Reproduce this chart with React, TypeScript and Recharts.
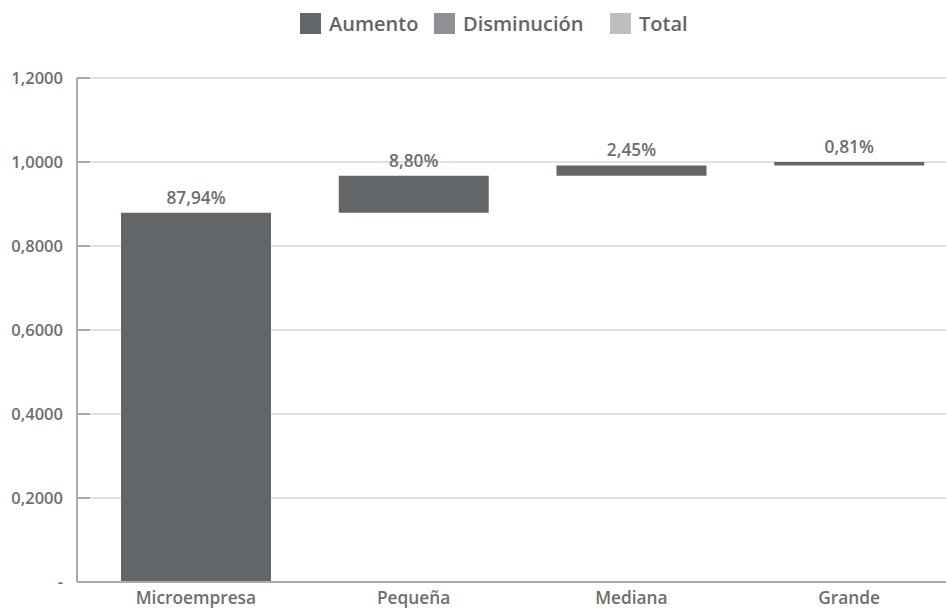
import React from 'react';
import { BarChart, Bar, XAxis, YAxis, CartesianGrid, Legend, LabelList } from 'recharts';

const categories = ['Microempresa', 'Pequeña', 'Mediana', 'Grande'];
const aumento = [0.8794, 0.088, 0.0245, 0.0081];
const disminucion = [0, 0, 0, 0];
const total = [0, 0, 0, 0];
const yTicks = [0, 0.2, 0.4, 0.6, 0.8, 1.0, 1.2];

const FONT = '"Open Sans", "Noto Sans", sans-serif';
const TEXT = '#6d6e71';
const AXIS = '#a7a9ac';
const C_AUM = '#636668';
const C_DIS = '#8f9194';
const C_TOT = '#bcbec0';
const LEGEND_ITEM_WIDTHS = [134, 176, 80];

let running = 0;
const data = categories.map((name, i) => {
  const base = running;
  running += aumento[i];
  return { name, base, aumento: aumento[i], disminucion: disminucion[i], total: total[i] };
});

const fmtAxis = (v: number) => (v === 0 ? '-' : v.toFixed(4).replace('.', ','));
const fmtPct = (v: number) => (v * 100).toFixed(2).replace('.', ',') + '%';

const TICK_SIZE = 6;
const TICK_MARGIN = 8;

const YTick = (props: any) => {
  const { x, y, payload } = props;
  const axisX = x + TICK_SIZE + TICK_MARGIN;
  return (
    <g>
      {payload.value !== 0 && (
        <line x1={axisX} x2={axisX + 13} y1={y} y2={y} stroke={AXIS} strokeWidth={2} />
      )}
      <text x={x} y={y} dy="0.355em" textAnchor="end" fill={TEXT} fontSize={16.5} fontWeight={600} fontFamily={FONT}>
        {fmtAxis(payload.value)}
      </text>
    </g>
  );
};

const XTick = (props: any) => {
  const { x, y, payload } = props;
  return (
    <text x={x} y={y} dy="0.71em" textAnchor="middle" fill={TEXT} fontSize={17.3} fontWeight={600} fontFamily={FONT}>
      {payload.value}
    </text>
  );
};

const LegendContent = (props: any) => {
  const items = (props.payload || []).filter((p: any) => p.type !== 'none');
  return (
    <div style={{ height: 0, overflow: 'visible' }}>
      <div style={{ display: 'flex', alignItems: 'center', whiteSpace: 'nowrap', height: 46 }}>
        {items.map((p: any, i: number) => (
          <div key={p.value} style={{ display: 'flex', alignItems: 'center', width: LEGEND_ITEM_WIDTHS[i] }}>
            <div style={{ width: 21, height: 21, background: p.color, marginRight: 8, flex: 'none' }} />
            <span style={{ fontFamily: FONT, fontSize: 20, fontWeight: 600, color: '#636466' }}>{p.value}</span>
          </div>
        ))}
      </div>
    </div>
  );
};

export default function App() {
  return (
    <div style={{ position: 'absolute', left: 0, top: 0, width: 946, height: 610, overflow: 'hidden', background: '#fff' }}>
      <BarChart
        width={958}
        height={610}
        data={data}
        margin={{ top: 78, right: 0, bottom: 0, left: 0 }}
        barSize={150}
      >
        <CartesianGrid vertical={false} stroke="#d9d9d9" strokeWidth={1.5} />
        <XAxis
          dataKey="name"
          height={28}
          padding={{ left: 10, right: 0 }}
          tickLine={false}
          tickSize={6}
          tickMargin={4}
          axisLine={{ stroke: AXIS, strokeWidth: 2 }}
          tick={<XTick />}
          interval={0}
        />
        <YAxis
          width={77}
          domain={[0, 1.2]}
          ticks={yTicks}
          tickLine={false}
          tickSize={TICK_SIZE}
          tickMargin={TICK_MARGIN}
          axisLine={{ stroke: AXIS, strokeWidth: 2 }}
          tick={<YTick />}
          interval={0}
        />
        <Legend
          verticalAlign="top"
          content={<LegendContent />}
          wrapperStyle={{ top: 0, left: 300, width: 600 }}
        />
        <Bar dataKey="base" stackId="a" fill="transparent" legendType="none" isAnimationActive={false} />
        <Bar dataKey="aumento" name="Aumento" stackId="a" fill={C_AUM} isAnimationActive={false}>
          <LabelList
            dataKey="aumento"
            position="top"
            offset={9}
            formatter={(v: any) => fmtPct(Number(v))}
            fill={TEXT}
            fontSize={17.3}
            fontWeight={600}
            fontFamily={FONT}
          />
        </Bar>
        <Bar dataKey="disminucion" name="Disminución" stackId="a" fill={C_DIS} isAnimationActive={false} />
        <Bar dataKey="total" name="Total" stackId="a" fill={C_TOT} isAnimationActive={false} />
      </BarChart>
    </div>
  );
}
